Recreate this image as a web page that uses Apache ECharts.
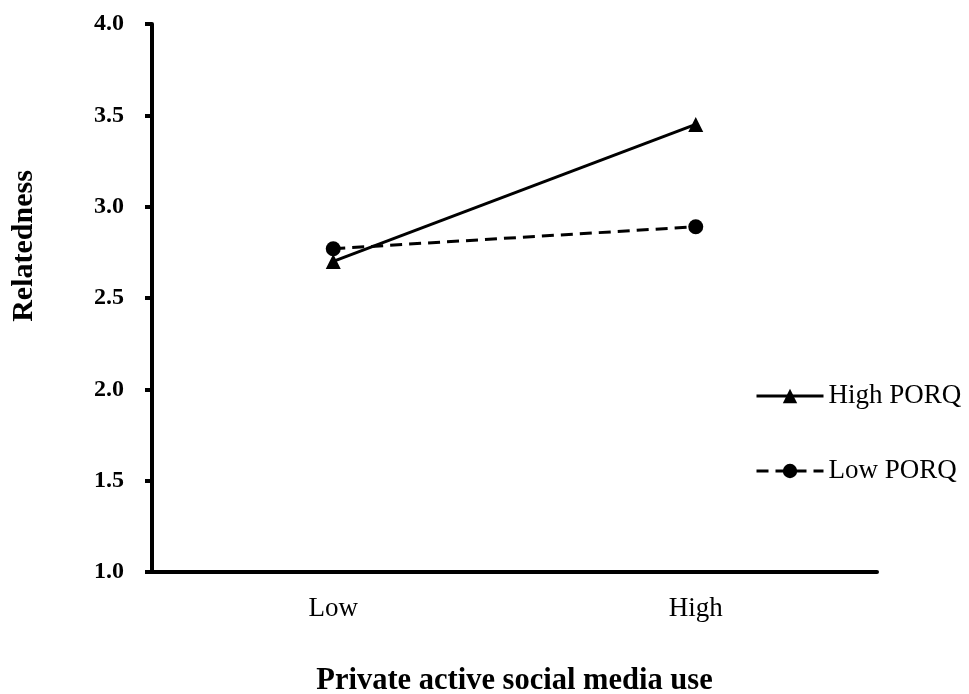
<!DOCTYPE html>
<html>
<head>
<meta charset="utf-8">
<script src="https://cdn.jsdelivr.net/npm/echarts@6/dist/echarts.min.js"></script>
<style>html,body{margin:0;padding:0;background:#fff;}#c{width:969px;height:694px;}</style>
</head>
<body>
<div id="c"></div>
<script>
var categories = ['Low', 'High'];
var highPORQ = [2.70, 3.45];
var lowPORQ = [2.77, 2.89];
var seriesNames = ['High PORQ', 'Low PORQ'];
var yMin = 1.0, yMax = 4.0, yStep = 0.5;
var xTitle = 'Private active social media use';
var yTitle = 'Relatedness';

var FONT = '"Liberation Serif", "Times New Roman", serif';
var chart = echarts.init(document.getElementById('c'), null, {renderer: 'canvas'});
chart.setOption({
  backgroundColor: '#fff',
  animation: false,
  grid: {left: 152, right: 92, top: 24, bottom: 122, containLabel: false, outerBoundsMode: 'none'},
  legend: {
    orient: 'vertical',
    left: 750, top: 377,
    itemWidth: 67, itemHeight: 18, itemGap: 47,
    lineStyle: {width: 3, color: '#000'},
    textStyle: {fontFamily: FONT, fontSize: 27, color: '#000', lineHeight: 28},
    data: seriesNames
  },
  graphic: [{
    type: 'text', x: 24, y: 246, rotation: Math.PI / 2,
    style: {text: yTitle, font: 'bold 30px ' + FONT, fill: '#000', textAlign: 'center', textVerticalAlign: 'middle'}
  }],
  xAxis: {
    type: 'category', data: categories, boundaryGap: true,
    name: xTitle, nameLocation: 'middle', nameGap: 94,
    nameTextStyle: {fontFamily: FONT, fontSize: 30.5, fontWeight: 'bold', color: '#000'},
    axisLine: {lineStyle: {color: '#000', width: 4}},
    axisTick: {show: false},
    axisLabel: {fontFamily: FONT, fontSize: 27, color: '#000', margin: 23},
    splitLine: {show: false}
  },
  yAxis: {
    type: 'value', min: yMin, max: yMax, interval: yStep,
    axisLine: {show: true, lineStyle: {color: '#000', width: 4}},
    axisTick: {show: true, length: 7, lineStyle: {color: '#000', width: 4}},
    axisLabel: {fontFamily: FONT, fontSize: 24, fontWeight: 'bold', color: '#000', margin: 28,
      formatter: function (v) { return v.toFixed(1); }},
    splitLine: {show: false}
  },
  series: [{
    name: seriesNames[0], type: 'line', data: highPORQ,
    symbol: 'triangle', symbolSize: 15,
    itemStyle: {color: '#000'},
    lineStyle: {color: '#000', width: 3, type: 'solid'},
    z: 2
  }, {
    name: seriesNames[1], type: 'line', data: lowPORQ,
    symbol: 'circle', symbolSize: 15,
    itemStyle: {color: '#000'},
    lineStyle: {color: '#000', width: 3, type: [12, 7]},
    z: 3
  }]
});
</script>
</body>
</html>
